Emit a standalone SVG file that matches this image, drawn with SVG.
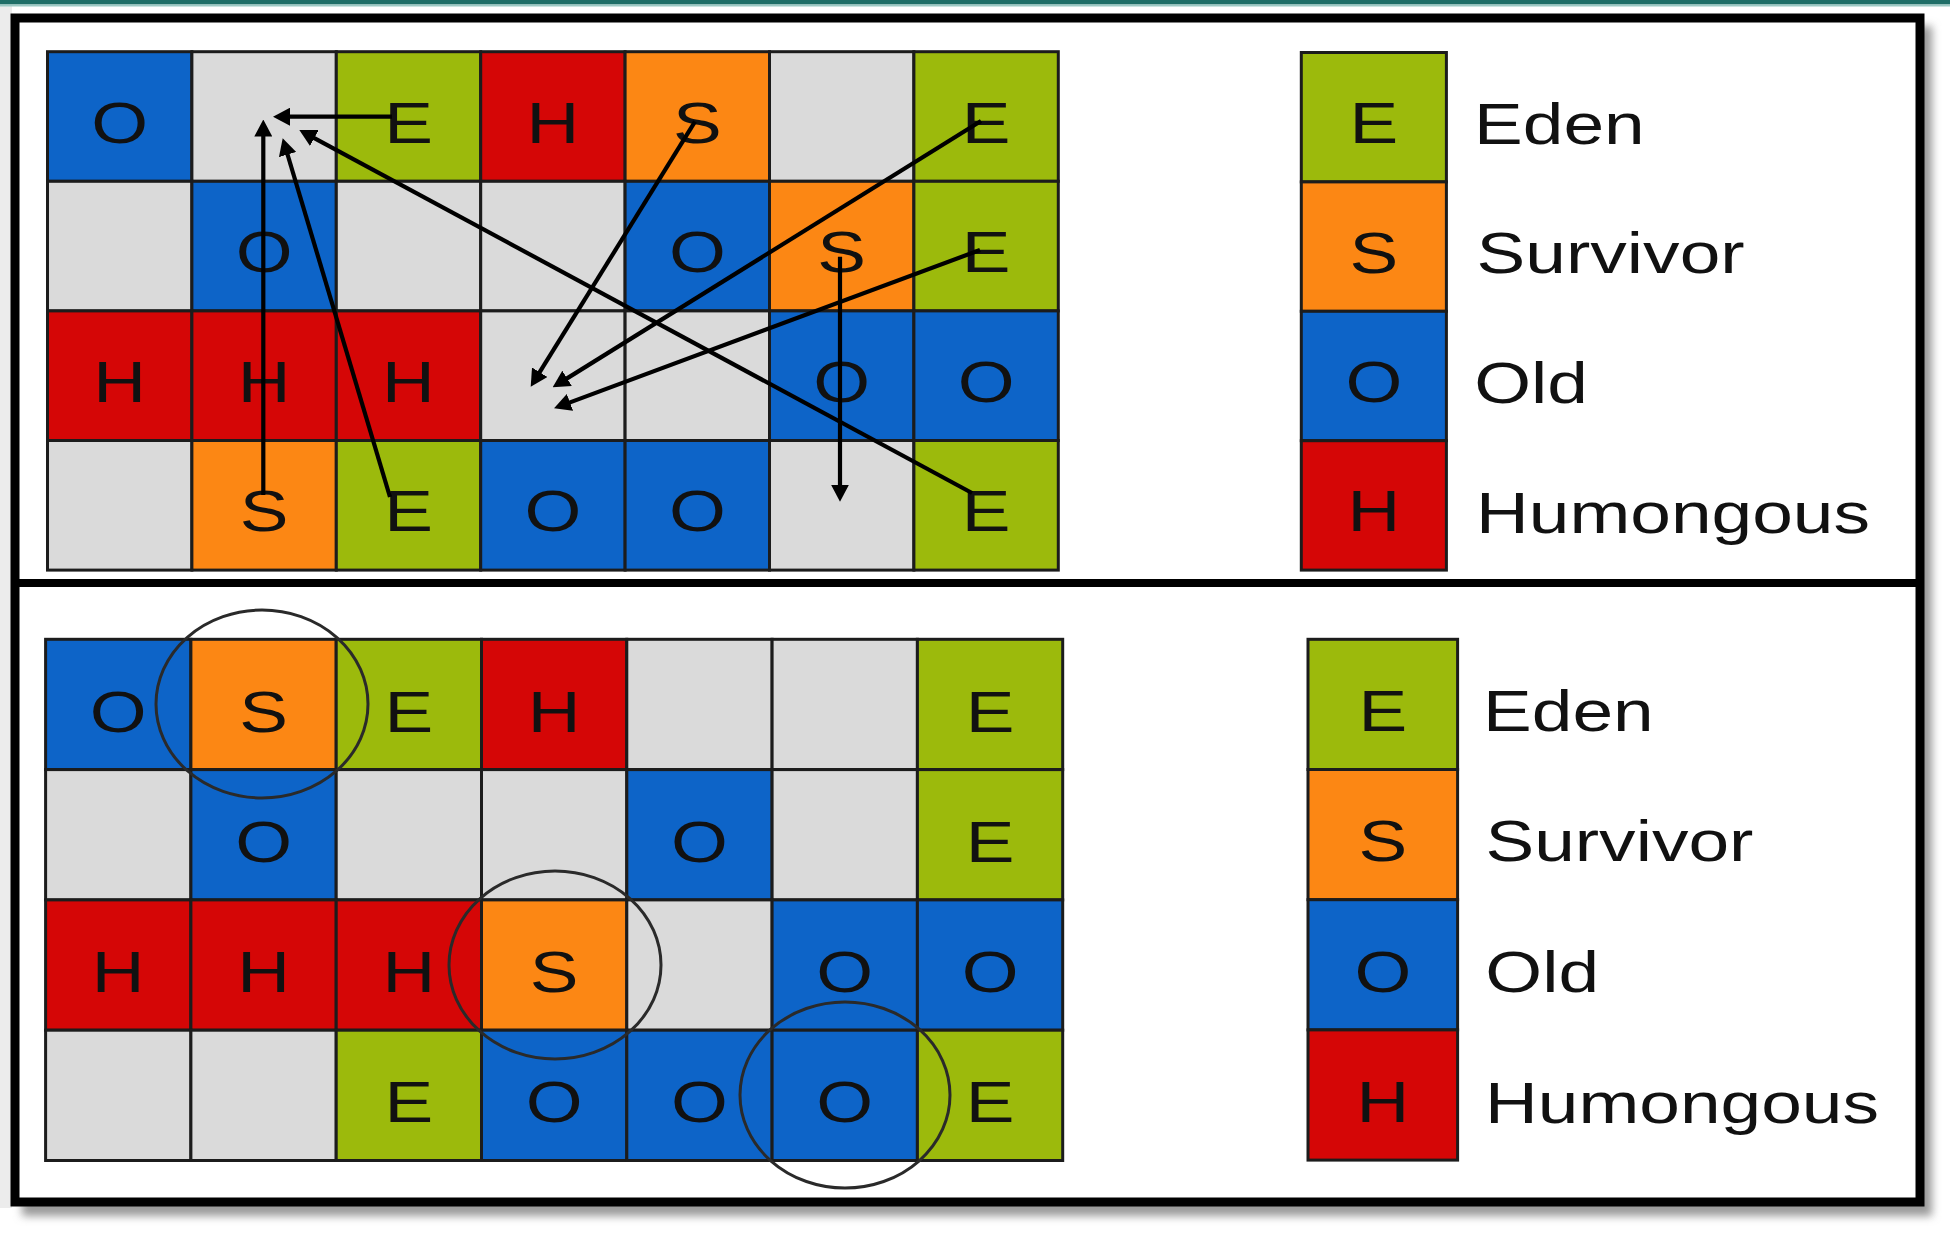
<svg xmlns="http://www.w3.org/2000/svg" width="1950" height="1244" viewBox="0 0 1950 1244">
<style>
.E{fill:#9cba0c}.S{fill:#fc8714}.O{fill:#0d64c8}.H{fill:#d50606}.X{fill:#dadada}
.cell rect{stroke:#1c1c1c;stroke-width:3}
text{font-family:"Liberation Sans",Arial,sans-serif;font-size:58px;fill:#111}
.c{text-anchor:middle}
.arr{stroke:#000;stroke-width:4.2;fill:none;marker-end:url(#ah)}
.ring{fill:none;stroke:#2a2a2a;stroke-width:3}
</style>
<defs>
<marker id="ah" markerUnits="userSpaceOnUse" markerWidth="17" markerHeight="18" viewBox="0 0 17 18" refX="10" refY="9" orient="auto"><path d="M0,0 L17,9 L0,18 z" fill="#000"/></marker>
<filter id="sh" x="-5%" y="-5%" width="110%" height="110%"><feGaussianBlur stdDeviation="4"/></filter>
</defs>
<rect width="1950" height="1244" fill="#fff"/>
<rect x="0" y="5" width="12" height="1203" fill="#ececec"/>
<rect x="0" y="0" width="1950" height="4.5" fill="#1f6e67"/>
<rect x="0" y="4.5" width="1950" height="2" fill="#9cc9c4"/>
<rect x="22" y="26" width="1910" height="1190" fill="#9a9a9a" filter="url(#sh)"/>
<g id="frame">
<rect x="15" y="18" width="1905" height="1184" fill="#fff" stroke="#000" stroke-width="9"/>
<line x1="15" y1="583" x2="1920" y2="583" stroke="#000" stroke-width="8"/>
</g>
<g id="top-grid" class="cell">
<g id="t00"><rect class="O" x="47.5" y="51.7" width="144.4" height="129.6"/><text class="c" transform="translate(119.7,142.5) scale(1.26 1)">O</text></g>
<g id="t01"><rect class="X" x="191.9" y="51.7" width="144.4" height="129.6"/></g>
<g id="t02"><rect class="E" x="336.3" y="51.7" width="144.4" height="129.6"/><text class="c" transform="translate(408.5,142.5) scale(1.26 1)">E</text></g>
<g id="t03"><rect class="H" x="480.7" y="51.7" width="144.4" height="129.6"/><text class="c" transform="translate(552.9,142.5) scale(1.26 1)">H</text></g>
<g id="t04"><rect class="S" x="625.1" y="51.7" width="144.4" height="129.6"/><text class="c" transform="translate(697.3,142.5) scale(1.26 1)">S</text></g>
<g id="t05"><rect class="X" x="769.5" y="51.7" width="144.4" height="129.6"/></g>
<g id="t06"><rect class="E" x="913.9" y="51.7" width="144.4" height="129.6"/><text class="c" transform="translate(986.1,142.5) scale(1.26 1)">E</text></g>
<g id="t10"><rect class="X" x="47.5" y="181.3" width="144.4" height="129.6"/></g>
<g id="t11"><rect class="O" x="191.9" y="181.3" width="144.4" height="129.6"/><text class="c" transform="translate(264.1,272.1) scale(1.26 1)">O</text></g>
<g id="t12"><rect class="X" x="336.3" y="181.3" width="144.4" height="129.6"/></g>
<g id="t13"><rect class="X" x="480.7" y="181.3" width="144.4" height="129.6"/></g>
<g id="t14"><rect class="O" x="625.1" y="181.3" width="144.4" height="129.6"/><text class="c" transform="translate(697.3,272.1) scale(1.26 1)">O</text></g>
<g id="t15"><rect class="S" x="769.5" y="181.3" width="144.4" height="129.6"/><text class="c" transform="translate(841.7,272.1) scale(1.26 1)">S</text></g>
<g id="t16"><rect class="E" x="913.9" y="181.3" width="144.4" height="129.6"/><text class="c" transform="translate(986.1,272.1) scale(1.26 1)">E</text></g>
<g id="t20"><rect class="H" x="47.5" y="310.9" width="144.4" height="129.6"/><text class="c" transform="translate(119.7,401.7) scale(1.26 1)">H</text></g>
<g id="t21"><rect class="H" x="191.9" y="310.9" width="144.4" height="129.6"/><text class="c" transform="translate(264.1,401.7) scale(1.26 1)">H</text></g>
<g id="t22"><rect class="H" x="336.3" y="310.9" width="144.4" height="129.6"/><text class="c" transform="translate(408.5,401.7) scale(1.26 1)">H</text></g>
<g id="t23"><rect class="X" x="480.7" y="310.9" width="144.4" height="129.6"/></g>
<g id="t24"><rect class="X" x="625.1" y="310.9" width="144.4" height="129.6"/></g>
<g id="t25"><rect class="O" x="769.5" y="310.9" width="144.4" height="129.6"/><text class="c" transform="translate(841.7,401.7) scale(1.26 1)">O</text></g>
<g id="t26"><rect class="O" x="913.9" y="310.9" width="144.4" height="129.6"/><text class="c" transform="translate(986.1,401.7) scale(1.26 1)">O</text></g>
<g id="t30"><rect class="X" x="47.5" y="440.5" width="144.4" height="129.6"/></g>
<g id="t31"><rect class="S" x="191.9" y="440.5" width="144.4" height="129.6"/><text class="c" transform="translate(264.1,531.3) scale(1.26 1)">S</text></g>
<g id="t32"><rect class="E" x="336.3" y="440.5" width="144.4" height="129.6"/><text class="c" transform="translate(408.5,531.3) scale(1.26 1)">E</text></g>
<g id="t33"><rect class="O" x="480.7" y="440.5" width="144.4" height="129.6"/><text class="c" transform="translate(552.9,531.3) scale(1.26 1)">O</text></g>
<g id="t34"><rect class="O" x="625.1" y="440.5" width="144.4" height="129.6"/><text class="c" transform="translate(697.3,531.3) scale(1.26 1)">O</text></g>
<g id="t35"><rect class="X" x="769.5" y="440.5" width="144.4" height="129.6"/></g>
<g id="t36"><rect class="E" x="913.9" y="440.5" width="144.4" height="129.6"/><text class="c" transform="translate(986.1,531.3) scale(1.26 1)">E</text></g>
</g>
<g id="top-legend" class="cell">
<g id="tl-eden"><rect class="E" x="1301.3" y="52.5" width="145.1" height="129.4"/><text class="c" transform="translate(1373.9,143.2) scale(1.26 1)">E</text><text transform="translate(1474,143.5) scale(1.26 1)">Eden</text></g>
<g id="tl-survivor"><rect class="S" x="1301.3" y="181.9" width="145.1" height="129.4"/><text class="c" transform="translate(1373.9,272.6) scale(1.26 1)">S</text><text transform="translate(1476.6,273) scale(1.26 1)">Survivor</text></g>
<g id="tl-old"><rect class="O" x="1301.3" y="311.3" width="145.1" height="129.4"/><text class="c" transform="translate(1373.9,402) scale(1.26 1)">O</text><text transform="translate(1474.2,402.5) scale(1.26 1)">Old</text></g>
<g id="tl-humongous"><rect class="H" x="1301.3" y="440.7" width="145.1" height="129.4"/><text class="c" transform="translate(1373.9,531.4) scale(1.26 1)">H</text><text transform="translate(1476,533) scale(1.26 1)">Humongous</text></g>
</g>
<g id="connectors">
<line class="arr" x1="392" y1="116.7" x2="280" y2="116.7"/>
<line class="arr" x1="263.3" y1="495" x2="263.3" y2="126.5"/>
<line class="arr" x1="390" y1="497" x2="284.7" y2="145"/>
<line class="arr" x1="972" y1="493" x2="305.5" y2="133.3"/>
<line class="arr" x1="695" y1="121.7" x2="534.4" y2="380.7"/>
<line class="arr" x1="981" y1="121" x2="558.6" y2="383.6"/>
<line class="arr" x1="980" y1="250" x2="560.6" y2="405.9"/>
<line class="arr" x1="840" y1="256.7" x2="840" y2="494.7"/>
</g>
<g id="bottom-grid" class="cell">
<g id="b00"><rect class="O" x="45.6" y="639.3" width="145.3" height="130.3"/><text class="c" transform="translate(118.25,731.5) scale(1.26 1)">O</text></g>
<g id="b01"><rect class="S" x="190.9" y="639.3" width="145.3" height="130.3"/><text class="c" transform="translate(263.55,731.5) scale(1.26 1)">S</text></g>
<g id="b02"><rect class="E" x="336.2" y="639.3" width="145.3" height="130.3"/><text class="c" transform="translate(408.85,731.5) scale(1.26 1)">E</text></g>
<g id="b03"><rect class="H" x="481.5" y="639.3" width="145.3" height="130.3"/><text class="c" transform="translate(554.15,731.5) scale(1.26 1)">H</text></g>
<g id="b04"><rect class="X" x="626.8" y="639.3" width="145.3" height="130.3"/></g>
<g id="b05"><rect class="X" x="772.1" y="639.3" width="145.3" height="130.3"/></g>
<g id="b06"><rect class="E" x="917.4" y="639.3" width="145.3" height="130.3"/><text class="c" transform="translate(990.05,731.5) scale(1.26 1)">E</text></g>
<g id="b10"><rect class="X" x="45.6" y="769.6" width="145.3" height="130.3"/></g>
<g id="b11"><rect class="O" x="190.9" y="769.6" width="145.3" height="130.3"/><text class="c" transform="translate(263.55,861.8) scale(1.26 1)">O</text></g>
<g id="b12"><rect class="X" x="336.2" y="769.6" width="145.3" height="130.3"/></g>
<g id="b13"><rect class="X" x="481.5" y="769.6" width="145.3" height="130.3"/></g>
<g id="b14"><rect class="O" x="626.8" y="769.6" width="145.3" height="130.3"/><text class="c" transform="translate(699.45,861.8) scale(1.26 1)">O</text></g>
<g id="b15"><rect class="X" x="772.1" y="769.6" width="145.3" height="130.3"/></g>
<g id="b16"><rect class="E" x="917.4" y="769.6" width="145.3" height="130.3"/><text class="c" transform="translate(990.05,861.8) scale(1.26 1)">E</text></g>
<g id="b20"><rect class="H" x="45.6" y="899.9" width="145.3" height="130.3"/><text class="c" transform="translate(118.25,992.1) scale(1.26 1)">H</text></g>
<g id="b21"><rect class="H" x="190.9" y="899.9" width="145.3" height="130.3"/><text class="c" transform="translate(263.55,992.1) scale(1.26 1)">H</text></g>
<g id="b22"><rect class="H" x="336.2" y="899.9" width="145.3" height="130.3"/><text class="c" transform="translate(408.85,992.1) scale(1.26 1)">H</text></g>
<g id="b23"><rect class="S" x="481.5" y="899.9" width="145.3" height="130.3"/><text class="c" transform="translate(554.15,992.1) scale(1.26 1)">S</text></g>
<g id="b24"><rect class="X" x="626.8" y="899.9" width="145.3" height="130.3"/></g>
<g id="b25"><rect class="O" x="772.1" y="899.9" width="145.3" height="130.3"/><text class="c" transform="translate(844.75,992.1) scale(1.26 1)">O</text></g>
<g id="b26"><rect class="O" x="917.4" y="899.9" width="145.3" height="130.3"/><text class="c" transform="translate(990.05,992.1) scale(1.26 1)">O</text></g>
<g id="b30"><rect class="X" x="45.6" y="1030.2" width="145.3" height="130.3"/></g>
<g id="b31"><rect class="X" x="190.9" y="1030.2" width="145.3" height="130.3"/></g>
<g id="b32"><rect class="E" x="336.2" y="1030.2" width="145.3" height="130.3"/><text class="c" transform="translate(408.85,1122.4) scale(1.26 1)">E</text></g>
<g id="b33"><rect class="O" x="481.5" y="1030.2" width="145.3" height="130.3"/><text class="c" transform="translate(554.15,1122.4) scale(1.26 1)">O</text></g>
<g id="b34"><rect class="O" x="626.8" y="1030.2" width="145.3" height="130.3"/><text class="c" transform="translate(699.45,1122.4) scale(1.26 1)">O</text></g>
<g id="b35"><rect class="O" x="772.1" y="1030.2" width="145.3" height="130.3"/><text class="c" transform="translate(844.75,1122.4) scale(1.26 1)">O</text></g>
<g id="b36"><rect class="E" x="917.4" y="1030.2" width="145.3" height="130.3"/><text class="c" transform="translate(990.05,1122.4) scale(1.26 1)">E</text></g>
</g>
<g id="highlights">
<ellipse class="ring" cx="262" cy="704" rx="106" ry="94"/>
<ellipse class="ring" cx="555" cy="965" rx="106" ry="94"/>
<ellipse class="ring" cx="845" cy="1095" rx="105" ry="93"/>
</g>
<g id="bottom-legend" class="cell">
<g id="bl-eden"><rect class="E" x="1308" y="639.3" width="149.6" height="130.2"/><text class="c" transform="translate(1382.8,731) scale(1.26 1)">E</text><text transform="translate(1483,730.5) scale(1.26 1)">Eden</text></g>
<g id="bl-survivor"><rect class="S" x="1308" y="769.5" width="149.6" height="130.2"/><text class="c" transform="translate(1382.8,861) scale(1.26 1)">S</text><text transform="translate(1485.4,861) scale(1.26 1)">Survivor</text></g>
<g id="bl-old"><rect class="O" x="1308" y="899.7" width="149.6" height="130.2"/><text class="c" transform="translate(1382.8,992) scale(1.26 1)">O</text><text transform="translate(1485.3,992) scale(1.26 1)">Old</text></g>
<g id="bl-humongous"><rect class="H" x="1308" y="1029.9" width="149.6" height="130.2"/><text class="c" transform="translate(1382.8,1122) scale(1.26 1)">H</text><text transform="translate(1485,1123) scale(1.26 1)">Humongous</text></g>
</g>
</svg>
